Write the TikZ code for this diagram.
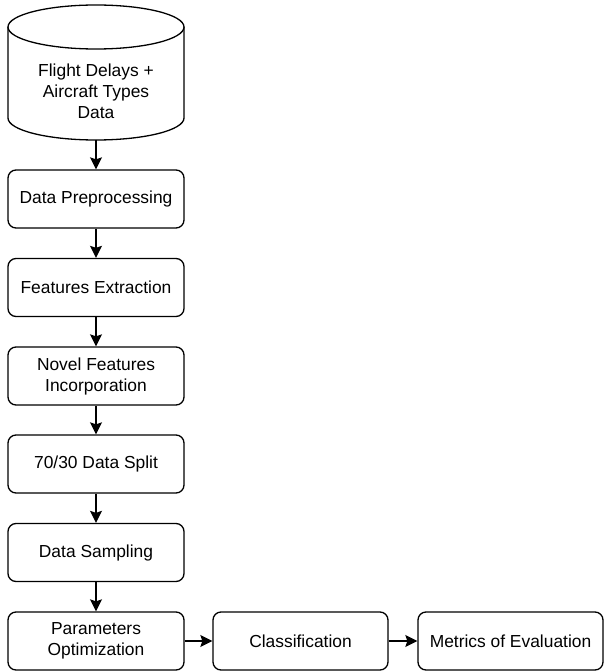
\documentclass[tikz,border=0pt]{standalone}
\usepackage{fontspec}
\setmainfont{Liberation Sans}
\usetikzlibrary{arrows.meta}

\begin{document}
\begin{tikzpicture}[x=1pt, y=-1pt]
\useasboundingbox (0,0) rectangle (605,671);

\coordinate (C1_1) at (96, 27);
\coordinate (C1_2) at (96, 140);
\coordinate (B1_1) at (96, 199);
\coordinate (B2_1) at (96, 287.5);
\coordinate (B3_1) at (96, 376);
\coordinate (B4_1) at (96, 464);
\coordinate (B5_1) at (96, 552.5);
\coordinate (B6_1) at (96, 641);
\coordinate (B6_2) at (300.5, 641);
\coordinate (B6_3) at (510.5, 641);


\tikzset{CylStyle/.style = {line width=1.3pt, fill=white} }

\draw[CylStyle] (8,27) -- (8,118) arc[start angle=180, end angle=0, x radius=88, y radius=22] -- (184,27);
\draw[CylStyle] (C1_1) ellipse[x radius=88, y radius=22];


\tikzset{BoxStyle/.style = {
 shape = rectangle,
 draw = black,
 line width = 1.3pt,
 rounded corners = 8pt,
 fill = white,
 text = black,
 align = center,
 font = \fontsize{17.4}{21}\selectfont,
 inner sep = 0pt,
 minimum width = 176pt,
 minimum height = 58pt} }

\node[BoxStyle, draw=none, fill=none] (F1) at (96, 91) {Flight Delays +\\Aircraft Types\\Data};
\node[BoxStyle] (F2) at (B1_1) {Data Preprocessing};
\node[BoxStyle] (F3) at (B2_1) {Features Extraction};
\node[BoxStyle] (F4) at (B3_1) {Novel Features\\Incorporation};
\node[BoxStyle] (F5) at (B4_1) {70/30 Data Split};
\node[BoxStyle] (F6) at (B5_1) {Data Sampling};
\node[BoxStyle] (F7) at (B6_1) {Parameters\\Optimization};
\node[BoxStyle, minimum width=175pt] (F8) at (B6_2) {Classification};
\node[BoxStyle, minimum width=185pt] (F9) at (B6_3) {Metrics of Evaluation};


\tikzset{EdgeStyle/.style = {line width=1.3pt, -{Stealth[length=12pt, width=12pt, inset=2pt]}} }

\draw[EdgeStyle] (C1_2) -- (F2);
\draw[EdgeStyle] (F2) -- (F3);
\draw[EdgeStyle] (F3) -- (F4);
\draw[EdgeStyle] (F4) -- (F5);
\draw[EdgeStyle] (F5) -- (F6);
\draw[EdgeStyle] (F6) -- (F7);
\draw[EdgeStyle] (F7) -- (F8);
\draw[EdgeStyle] (F8) -- (F9);

\end{tikzpicture}
\end{document}
